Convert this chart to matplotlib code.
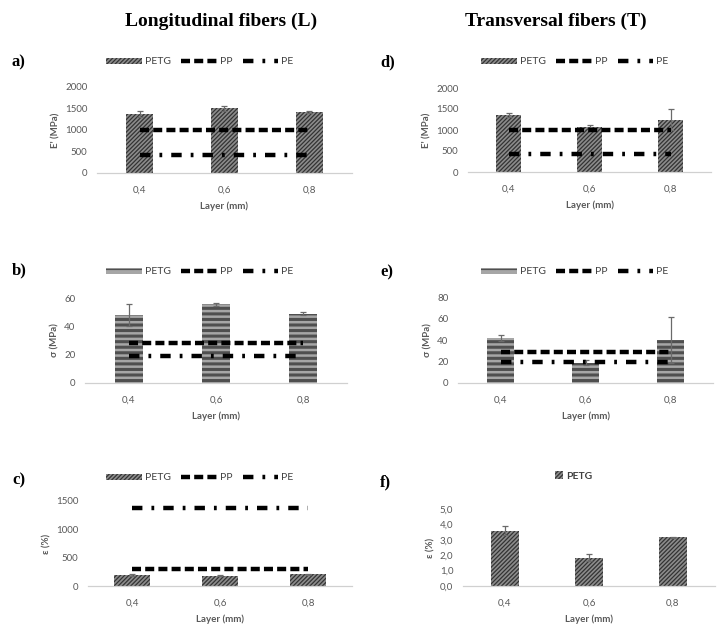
import matplotlib
matplotlib.use("Agg")
import matplotlib.pyplot as plt
from matplotlib.lines import Line2D
from matplotlib.patches import Patch

plt.rcParams['font.family'] = ['Lato', 'DejaVu Sans']
plt.rcParams['hatch.linewidth'] = 0.9
plt.rcParams['lines.scale_dashes'] = False

W, H = 717, 625

# ---- data ----
layers = ["0,4", "0,6", "0,8"]

# Longitudinal fibers (L)
a_petg = [1370, 1500, 1425]
a_err = [70, 60, 20]
a_pp = [1000, 1000, 1000]
a_pe = [430, 430, 430]

b_petg = [48, 55.5, 49]
b_err = [8, 1, 1]
b_pp = [28.5, 28.5, 28.5]
b_pe = [19, 19, 19]

c_petg = [200, 185, 205]
c_err = [20, 10, 15]
c_pp = [300, 300, 300]
c_pe = [1380, 1380, 1380]

# Transversal fibers (T)
d_petg = [1350, 1080, 1250]
d_err = [50, 30, 250]
d_pp = [1000, 1000, 1000]
d_pe = [430, 430, 430]

e_petg = [42, 19, 40]
e_err = [3, 2, 21.5]
e_pp = [29, 29, 29]
e_pe = [20, 20, 20]

f_petg = [3.6, 1.85, 3.15]
f_err = [0.3, 0.2, 0.05]

PP_DASH = (6.5, 3.0)
PE_DASH = (7.5, 6.5, 2.0, 6.5)
TICK_COL = '#595959'

DIAG = dict(color='#8c8c8c', edgecolor='#333333', hatch='////////')
STRIPE = dict(color='#a6a6a6', edgecolor='#4f4f4f', hatch='---')


def px_axes(fig, left, right, top, bottom):
    return fig.add_axes([left / W, 1 - bottom / H, (right - left) / W, (bottom - top) / H])


def panel(fig, rect, petg, err, pp, pe, ylim, yticks, yticklabels, ylabel,
          legend_xy, letter, letter_xy, stripes=False, width=0.32):
    left, right, top, bottom = rect
    ax = px_axes(fig, left, right, top, bottom)
    x = list(range(len(layers)))
    style = STRIPE if stripes else DIAG
    bars = ax.bar(x, petg, width=width, linewidth=0, zorder=2, **style)
    if stripes:
        for b in bars:
            if hasattr(b, 'set_hatch_linewidth'):
                b.set_hatch_linewidth(2.2)
    ax.errorbar(x, petg, yerr=err, fmt='none', ecolor='#6a6a6a', elinewidth=0.9,
                capsize=2.5, capthick=0.9, zorder=3)
    handles = [Patch(facecolor=style['color'], edgecolor=style['edgecolor'],
                     hatch=style['hatch'], linewidth=0, label='PETG')]
    if pp is not None:
        ax.plot(x, pp, color='black', lw=3.2, dashes=PP_DASH, dash_capstyle='butt', zorder=4)
        ax.plot(x, pe, color='black', lw=3.2, dashes=PE_DASH, dash_capstyle='butt', zorder=4)
        handles.append(Line2D([], [], color='black', lw=3.2, dashes=PP_DASH,
                              dash_capstyle='butt', label='PP'))
        handles.append(Line2D([], [], color='black', lw=3.2, dashes=PE_DASH,
                              dash_capstyle='butt', label='PE'))
    ax.set_xlim(-0.5, len(layers) - 0.5)
    ax.set_ylim(*ylim)
    ax.set_yticks(yticks)
    ax.set_yticklabels(yticklabels)
    ax.set_xticks(x)
    ax.set_xticklabels(layers)
    ax.tick_params(length=0, labelsize=7, colors=TICK_COL, pad=7)
    ax.tick_params(axis='x', pad=9)
    for s in ['top', 'right', 'left']:
        ax.spines[s].set_visible(False)
    ax.spines['bottom'].set_color('#d0d0d0')
    ax.spines['bottom'].set_linewidth(0.9)
    ax.set_ylabel(ylabel, fontsize=7, fontweight='bold', color=TICK_COL, labelpad=3)
    ax.set_xlabel('Layer (mm)', fontsize=7, fontweight='bold', color=TICK_COL, labelpad=5)

    if pp is not None:
        fig.legend(handles=handles, loc='center', ncol=3, frameon=False, fontsize=7.5,
                   bbox_to_anchor=(legend_xy[0] / W, 1 - legend_xy[1] / H),
                   handlelength=3.4, handleheight=0.6, columnspacing=1.0,
                   handletextpad=0.3, labelcolor='#404040')
    else:
        fig.legend(handles=handles, loc='center', ncol=1, frameon=False,
                   bbox_to_anchor=(legend_xy[0] / W, 1 - legend_xy[1] / H),
                   handlelength=0.8, handleheight=0.8, handletextpad=0.3,
                   labelcolor='#404040', prop={'weight': 'bold', 'size': 7.5})
    fig.text(letter_xy[0] / W, 1 - letter_xy[1] / H, letter, family='Liberation Serif',
             fontsize=12, fontweight='bold', ha='left', va='center')
    return ax


fig = plt.figure(figsize=(W / 100, H / 100), dpi=100)

fig.text(221 / W, 1 - 21 / H, 'Longitudinal fibers (L)', family='Liberation Serif',
         fontsize=14, fontweight='bold', ha='center', va='center')
fig.text(556 / W, 1 - 21 / H, 'Transversal fibers (T)', family='Liberation Serif',
         fontsize=14, fontweight='bold', ha='center', va='center')

panel(fig, (97, 352, 87, 173), a_petg, a_err, a_pp, a_pe, (0, 2000),
      [0, 500, 1000, 1500, 2000], ['0', '500', '1000', '1500', '2000'], "E' (MPa)",
      (200, 62), 'a)', (12, 62))
panel(fig, (85, 347, 298, 383), b_petg, b_err, b_pp, b_pe, (0, 60),
      [0, 20, 40, 60], ['0', '20', '40', '60'], 'σ (MPa)',
      (200, 272), 'b)', (12, 270), stripes=True)
panel(fig, (88, 352, 501, 586), c_petg, c_err, c_pp, c_pe, (0, 1500),
      [0, 500, 1000, 1500], ['0', '500', '1000', '1500'], 'ε (%)',
      (200, 478), 'c)', (12, 480), width=0.41)

panel(fig, (468, 711, 88, 172), d_petg, d_err, d_pp, d_pe, (0, 2000),
      [0, 500, 1000, 1500, 2000], ['0', '500', '1000', '1500', '2000'], "E' (MPa)",
      (575, 62), 'd)', (380, 62))
panel(fig, (458, 713, 297, 383), e_petg, e_err, e_pp, e_pe, (0, 80),
      [0, 20, 40, 60, 80], ['0', '20', '40', '60', '80'], 'σ (MPa)',
      (575, 272), 'e)', (380, 272), stripes=True)
panel(fig, (463, 715, 509, 586), f_petg, f_err, None, None, (0, 5),
      [0, 1, 2, 3, 4, 5], ['0,0', '1,0', '2,0', '3,0', '4,0', '5,0'], 'ε (%)',
      (574, 476), 'f)', (380, 482), width=0.34)

fig.savefig('out.png', dpi=100, facecolor='white')
